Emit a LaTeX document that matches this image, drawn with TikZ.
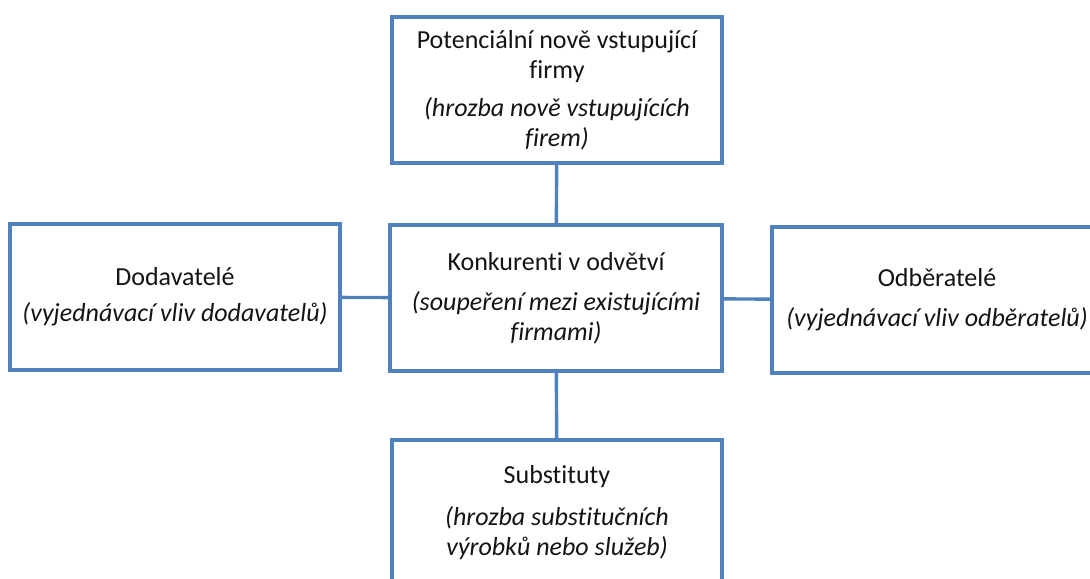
\documentclass[tikz,border=0pt]{standalone}
\usepackage{fontspec}
\setmainfont{Carlito}[Ligatures=NoCommon]
\definecolor{frame}{RGB}{79,129,189}
\definecolor{ink}{RGB}{20,20,20}
\tikzset{
  force/.style={draw=frame,line width=1.7pt,fill=white,minimum width=165pt,
    minimum height=73pt,inner sep=0pt,align=center,text=ink,
    font=\fontsize{13}{15}\selectfont},
  link/.style={draw=frame,line width=1.7pt},
}
\begin{document}
\begin{tikzpicture}[x=0.5pt,y=-0.5pt]
  \useasboundingbox (0,0) rectangle (1090,578);
  % the five forces
  \node[force] (entrants) at (557,90) {Potenciální nově vstupující\\firmy\\[4pt]\textit{(hrozba nově vstupujících}\\\textit{firem)}};
  \node[force] (suppliers) at (175,297) {Dodavatelé\\[3pt]\textit{(vyjednávací vliv dodavatelů)}};
  \node[force,minimum width=166pt] (rivals) at (556,298) {Konkurenti v odvětví\\[5pt]\textit{(soupeření mezi existujícími}\\\textit{firmami)}};
  \node[force] (buyers) at (937,300) {Odběratelé\\[5pt]\textit{(vyjednávací vliv odběratelů)}};
  \node[force] (substitutes) at (557,513) {Substituty\\[6pt]\textit{(hrozba substitučních}\\\textit{výrobků nebo služeb)}};
  % connectors
  \draw[link] (entrants) -- (rivals);
  \draw[link] (suppliers) -- (rivals);
  \draw[link] (rivals) -- (buyers);
  \draw[link] (rivals) -- (substitutes);
\end{tikzpicture}
\end{document}
